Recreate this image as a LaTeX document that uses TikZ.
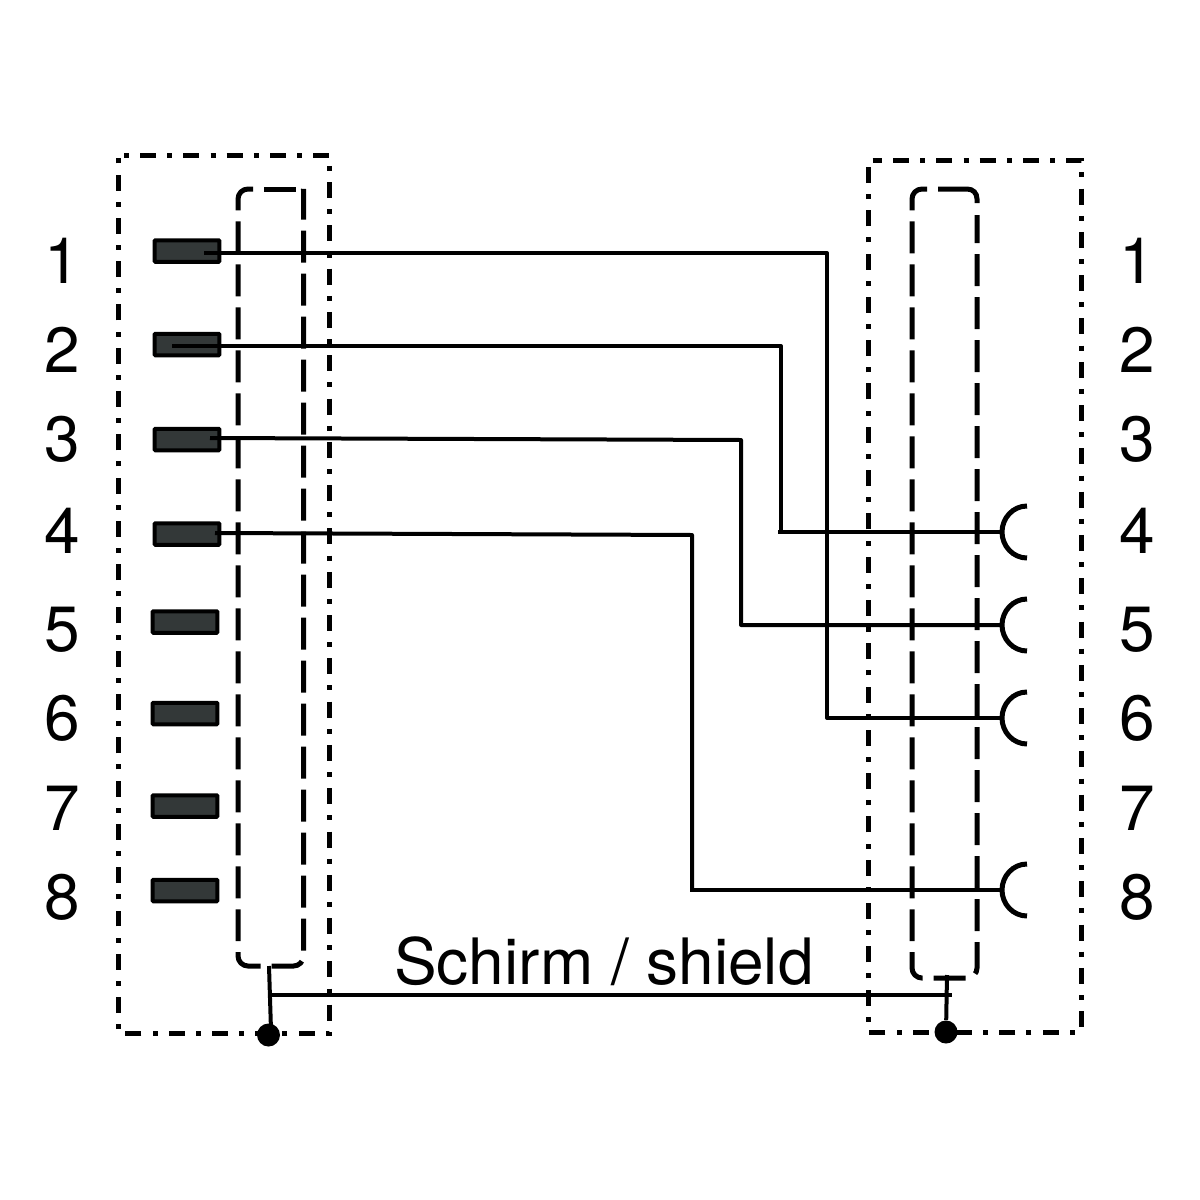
\documentclass[tikz,border=0pt]{standalone}
\usepackage{fontspec}
\setmainfont{TeX Gyre Heros}
\tikzset{
  x=0.02cm,y=-0.02cm,
  outerbox/.style={line width=0.1cm,dash pattern=on 0.1cm off 0.223cm on 0.32cm off 0.223cm},
  innerbox/.style={line width=0.1cm,dash pattern=on 0.64cm off 0.22cm,rounded corners=0.2cm},
  innertop/.style={line width=0.1cm},
  pinblock/.style={draw=black,fill=pinfill,line width=0.08cm,rounded corners=0.02cm,minimum width=1.3cm,minimum height=0.43cm,inner sep=0pt},
  wire/.style={line width=0.08cm,line join=round},
  socketarc/.style={line width=0.1cm},
  number/.style={font=\fontsize{36.4}{36.4}\selectfont,anchor=base,inner sep=0pt},
  shielddot/.style={circle,fill=black,minimum size=0.46cm,inner sep=0pt}
}
\definecolor{pinfill}{HTML}{333838}
\newcommand{\socketcurve}[1]{\draw[socketarc] (#1) ++(25,-26) .. controls +(-14,0) and +(0,-14) .. ++(-25,26) .. controls +(0,14) and +(-14,0) .. ++(25,26);}
\begin{document}
\begin{tikzpicture}
\useasboundingbox (0,0) rectangle (1200,1200);
% outer boxes
\draw[outerbox] (124,155) -- (329.5,155) -- (329.5,1033) -- (118,1033) -- (118,155) -- cycle;
\draw[outerbox] (877,160) -- (1081,160) -- (1081,1032) -- (868.5,1032) -- (868.5,160) -- cycle;
% inner boxes
\draw[innerbox] (253,189) -- (238,189) -- (238,966) -- (303.5,966) -- (303.5,199) .. controls (303.5,194) and (302,191) .. (298,189);
\draw[innertop] (264,189) -- (296,189);
\draw[innerbox] (927,189) -- (912,189) -- (912,978) -- (977,978) -- (977,215);
\draw[innertop] (938,189) -- (967,189) .. controls (973,189) and (977,193) .. (977,199) -- (977,203);
% pins
\node[pinblock] (p1) at (187,251) {};
\node[pinblock] (p2) at (187,344.5) {};
\node[pinblock] (p3) at (187,439.5) {};
\node[pinblock] (p4) at (187,534) {};
\node[pinblock] (p5) at (185,622) {};
\node[pinblock] (p6) at (185,713.5) {};
\node[pinblock] (p7) at (185,806) {};
\node[pinblock] (p8) at (185,890.5) {};
% socket positions
\coordinate (s4) at (1002,532);
\coordinate (s5) at (1002,625);
\coordinate (s6) at (1002,718);
\coordinate (s8) at (1002,890);
\socketcurve{s4}
\socketcurve{s5}
\socketcurve{s6}
\socketcurve{s8}
% wires
\coordinate (a1) at (204,253);
\coordinate (b1) at (827,253);
\coordinate (c1) at (827,718);
\coordinate (a2) at (172,346);
\coordinate (b2) at (781,346);
\coordinate (c2) at (781,532);
\coordinate (d2) at (778,532);
\coordinate (a3) at (210,438);
\coordinate (b3) at (741,440);
\coordinate (c3) at (741,625);
\coordinate (a4) at (215,533);
\coordinate (b4) at (692,535);
\coordinate (c4) at (692,890);
\coordinate (d4) at (690,890);
\draw[wire] (a1) -- (b1) -- (c1) -- (s6);
\draw[wire] (a2) -- (b2) -- (c2);
\draw[wire] (d2) -- (s4);
\draw[wire] (a3) -- (b3) -- (c3) -- (s5);
\draw[wire] (a4) -- (b4) -- (c4);
\draw[wire] (d4) -- (s8);
% shield
\node[shielddot] (dl) at (268.5,1035) {};
\node[shielddot] (dr) at (946,1032) {};
\coordinate (tl) at (269,966);
\coordinate (bl) at (271,1030);
\coordinate (tr) at (947,975);
\coordinate (jl) at (270,995);
\coordinate (jr) at (952,995);
\draw[wire] (tl) -- (bl);
\draw[wire] (tr) -- (dr);
\draw[wire] (jl) -- (jr);
% labels
\foreach \n/\y in {1/283,2/372,3/461,4/553,5/651,6/740,7/830,8/919}{
  \node[number] (L\n) at (62,\y) {\n};
  \node[number] (R\n) at (1137,\y) {\n};
}
\node[number] (shieldlabel) at (604,984) {Schirm / shield};
\end{tikzpicture}
\end{document}
